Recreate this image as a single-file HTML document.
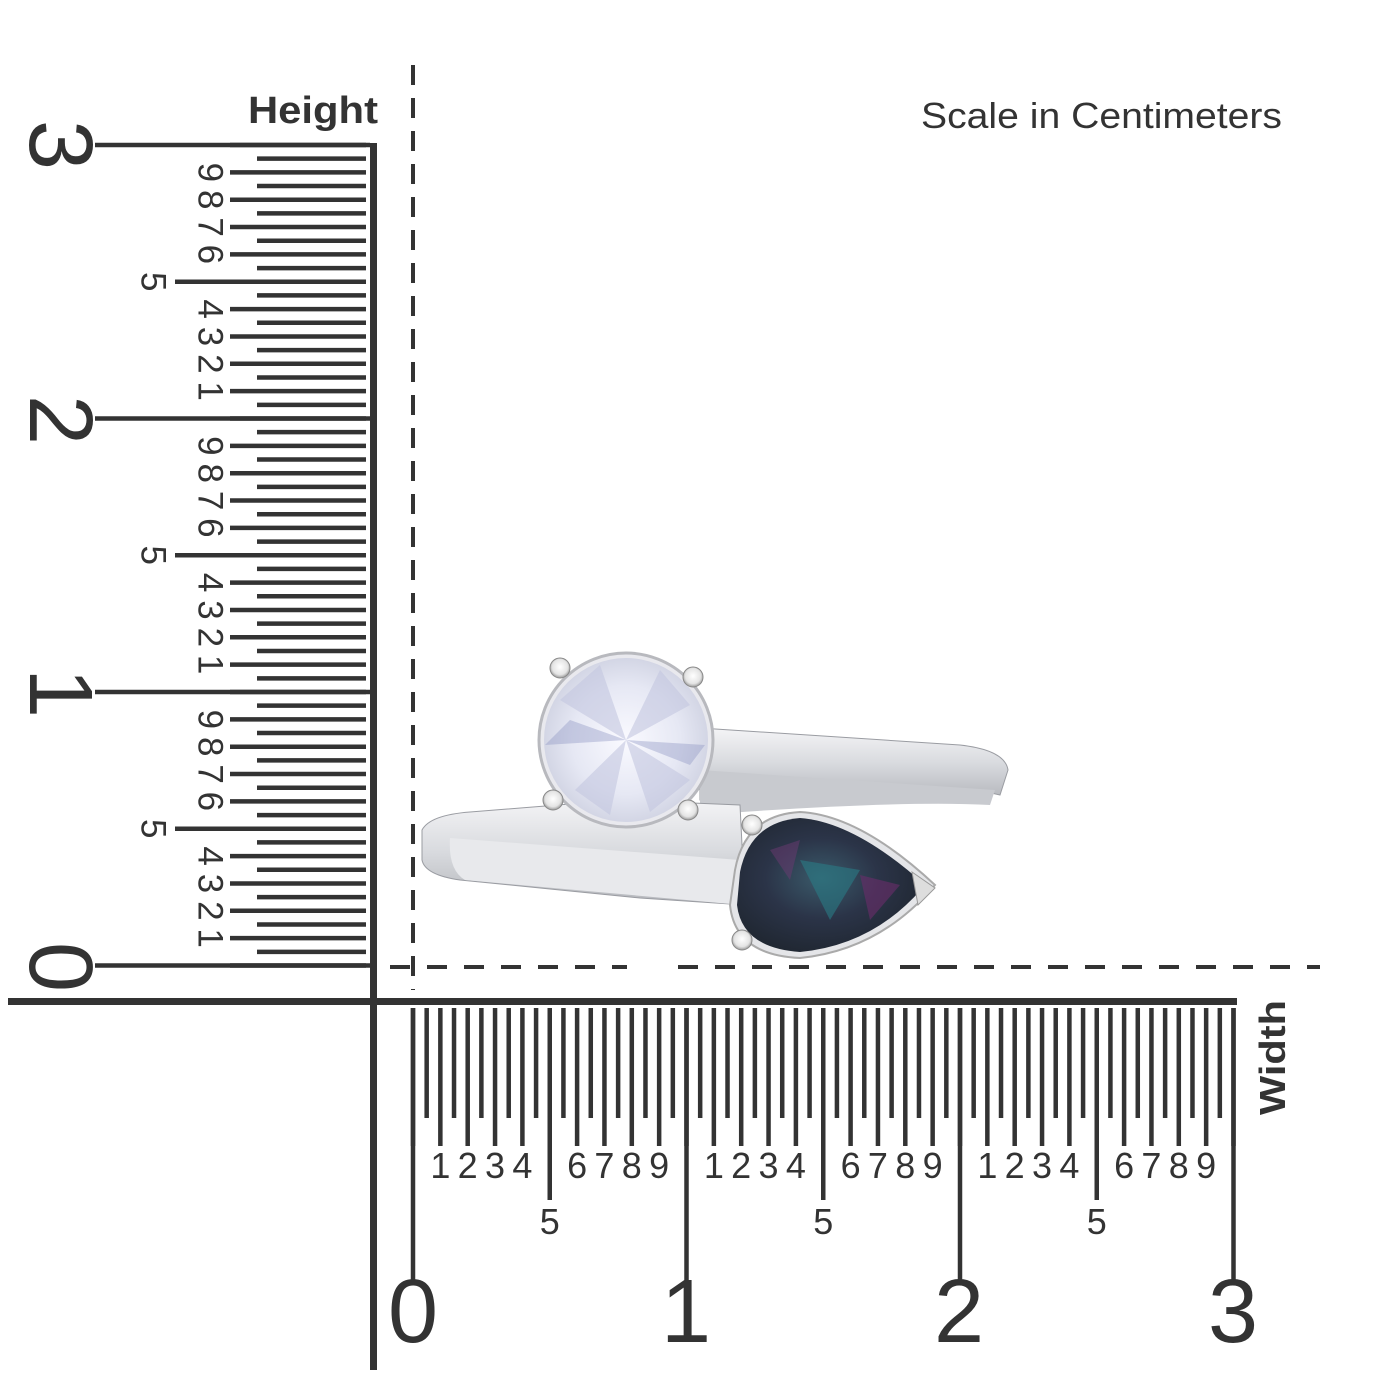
<!DOCTYPE html>
<html><head><meta charset="utf-8"><style>html,body{margin:0;padding:0;background:#fff}svg{display:block}</style></head>
<body>
<svg width="1400" height="1400" viewBox="0 0 1400 1400" xmlns="http://www.w3.org/2000/svg" font-family="Liberation Sans, Arial, sans-serif" fill="#333">
<defs>
<radialGradient id="dia" cx="50%" cy="50%" r="55%"><stop offset="0" stop-color="#fafaff"/><stop offset="0.6" stop-color="#e6e8f4"/><stop offset="1" stop-color="#cdd0e0"/></radialGradient>
<radialGradient id="alex" cx="45%" cy="45%" r="60%"><stop offset="0" stop-color="#3a5a6a"/><stop offset="0.5" stop-color="#2b3448"/><stop offset="1" stop-color="#1f2630"/></radialGradient>
<linearGradient id="band" x1="0" y1="0" x2="0" y2="1"><stop offset="0" stop-color="#f4f4f6"/><stop offset="0.5" stop-color="#d8dade"/><stop offset="1" stop-color="#b4b6bb"/></linearGradient>
<radialGradient id="prong" cx="50%" cy="45%" r="55%"><stop offset="0" stop-color="#fff"/><stop offset="0.7" stop-color="#e4e4e4"/><stop offset="1" stop-color="#999"/></radialGradient>
</defs>

<!-- titles -->
<text x="248" y="123" font-size="38" font-weight="bold" textLength="130" lengthAdjust="spacingAndGlyphs">Height</text>
<text x="921" y="128" font-size="36" textLength="361" lengthAdjust="spacingAndGlyphs">Scale in Centimeters</text>
<text transform="translate(1285,1115) rotate(-90)" font-size="36" font-weight="bold" textLength="115" lengthAdjust="spacingAndGlyphs">Width</text>

<!-- dashed guides -->
<line x1="413" y1="65" x2="413" y2="990" stroke="#333" stroke-width="4" stroke-dasharray="20 13"/>
<line x1="390" y1="967" x2="627" y2="967" stroke="#333" stroke-width="4" stroke-dasharray="20 17"/>
<line x1="678" y1="967" x2="1320" y2="967" stroke="#333" stroke-width="4" stroke-dasharray="20 17"/>

<!-- axes -->
<rect x="370" y="143" width="7" height="1227" fill="#333"/>
<rect x="8" y="998" width="1229" height="7" fill="#333"/>

<!-- vertical ruler ticks -->
<line x1="311.5" y1="142.75" x2="311.5" y2="968" stroke="#333" stroke-width="109" stroke-dasharray="4.5 9.175"/>
<line x1="243.5" y1="142.75" x2="243.5" y2="968" stroke="#333" stroke-width="27" stroke-dasharray="4.5 22.85"/>
<g fill="#333">
<rect x="95" y="142.75" width="275" height="4.5"/>
<rect x="95" y="416.25" width="275" height="4.5"/>
<rect x="95" y="689.75" width="275" height="4.5"/>
<rect x="95" y="963.25" width="275" height="4.5"/>
<rect x="175" y="279.5" width="60" height="4.5"/>
<rect x="175" y="553" width="60" height="4.5"/>
<rect x="175" y="826.5" width="60" height="4.5"/>
</g>
<g font-size="35" text-anchor="middle" dominant-baseline="central">
<text transform="translate(210,172.35) rotate(90)">9</text>
<text transform="translate(210,199.7) rotate(90)">8</text>
<text transform="translate(210,227.05) rotate(90)">7</text>
<text transform="translate(210,254.4) rotate(90)">6</text>
<text transform="translate(153,281.75) rotate(90)">5</text>
<text transform="translate(210,309.1) rotate(90)">4</text>
<text transform="translate(210,336.45) rotate(90)">3</text>
<text transform="translate(210,363.8) rotate(90)">2</text>
<text transform="translate(210,391.15) rotate(90)">1</text>

<text transform="translate(210,445.85) rotate(90)">9</text>
<text transform="translate(210,473.2) rotate(90)">8</text>
<text transform="translate(210,500.55) rotate(90)">7</text>
<text transform="translate(210,527.9) rotate(90)">6</text>
<text transform="translate(153,555.25) rotate(90)">5</text>
<text transform="translate(210,582.6) rotate(90)">4</text>
<text transform="translate(210,609.95) rotate(90)">3</text>
<text transform="translate(210,637.3) rotate(90)">2</text>
<text transform="translate(210,664.65) rotate(90)">1</text>

<text transform="translate(210,719.35) rotate(90)">9</text>
<text transform="translate(210,746.7) rotate(90)">8</text>
<text transform="translate(210,774.05) rotate(90)">7</text>
<text transform="translate(210,801.4) rotate(90)">6</text>
<text transform="translate(153,828.75) rotate(90)">5</text>
<text transform="translate(210,856.1) rotate(90)">4</text>
<text transform="translate(210,883.45) rotate(90)">3</text>
<text transform="translate(210,910.8) rotate(90)">2</text>
<text transform="translate(210,938.15) rotate(90)">1</text>
</g>
<g font-size="90" text-anchor="middle" dominant-baseline="central">
<text transform="translate(60,145) rotate(90)">3</text>
<text transform="translate(60,420) rotate(90)">2</text>
<text transform="translate(60,693) rotate(90)">1</text>
<text transform="translate(60,967) rotate(90)">0</text>
</g>

<!-- bottom ruler ticks -->
<line x1="410.75" y1="1063" x2="1236" y2="1063" stroke="#333" stroke-width="110" stroke-dasharray="4.5 9.175"/>
<line x1="410.75" y1="1132" x2="1236" y2="1132" stroke="#333" stroke-width="28" stroke-dasharray="4.5 22.85"/>
<g fill="#333">
<rect x="410.75" y="1008" width="4.5" height="272"/>
<rect x="684.25" y="1008" width="4.5" height="272"/>
<rect x="957.75" y="1008" width="4.5" height="272"/>
<rect x="1231.25" y="1008" width="4.5" height="272"/>
<rect x="547.5" y="1140" width="4.5" height="60"/>
<rect x="821" y="1140" width="4.5" height="60"/>
<rect x="1094.5" y="1140" width="4.5" height="60"/>
</g>
<g font-size="36" text-anchor="middle">
<text x="440.35" y="1178">1</text><text x="467.7" y="1178">2</text><text x="495.05" y="1178">3</text><text x="522.4" y="1178">4</text>
<text x="577.1" y="1178">6</text><text x="604.45" y="1178">7</text><text x="631.8" y="1178">8</text><text x="659.15" y="1178">9</text>
<text x="549.75" y="1234">5</text>
<text x="713.85" y="1178">1</text><text x="741.2" y="1178">2</text><text x="768.55" y="1178">3</text><text x="795.9" y="1178">4</text>
<text x="850.6" y="1178">6</text><text x="877.95" y="1178">7</text><text x="905.3" y="1178">8</text><text x="932.65" y="1178">9</text>
<text x="823.25" y="1234">5</text>
<text x="987.35" y="1178">1</text><text x="1014.7" y="1178">2</text><text x="1042.05" y="1178">3</text><text x="1069.4" y="1178">4</text>
<text x="1124.1" y="1178">6</text><text x="1151.45" y="1178">7</text><text x="1178.8" y="1178">8</text><text x="1206.15" y="1178">9</text>
<text x="1096.75" y="1234">5</text>
</g>
<g font-size="90" text-anchor="middle">
<text x="413" y="1342">0</text>
<text x="686" y="1342">1</text>
<text x="959" y="1342">2</text>
<text x="1233" y="1342">3</text>
</g>

<!-- ring -->
<g>
<path d="M700 728 L960 745 Q1005 750 1008 770 L1000 795 Q960 785 900 790 L700 800 Z" fill="url(#band)" stroke="#9a9ca2" stroke-width="1"/>
<path d="M700 770 L995 790 L990 805 Q900 800 700 815 Z" fill="#c8cacf"/>
<path d="M422 830 Q430 815 470 812 L620 800 L740 805 L745 905 L640 898 L460 880 Q425 875 422 860 Z" fill="url(#band)" stroke="#9a9ca2" stroke-width="1"/>
<path d="M450 838 L740 860 L742 905 L465 880 Q448 870 450 838 Z" fill="#e8e9ec"/>
<circle cx="626" cy="740" r="87" fill="#e9e9ee" stroke="#b8b9be" stroke-width="3"/>
<circle cx="626" cy="740" r="82" fill="url(#dia)"/>
<path d="M626 740 L560 700 L600 665 Z M626 740 L690 705 L660 670 Z M626 740 L575 790 L610 815 Z M626 740 L690 780 L650 812 Z" fill="#c3c7e0" opacity="0.6"/>
<path d="M626 740 L545 745 L570 720 Z M626 740 L705 745 L690 765 Z" fill="#8f96c4" opacity="0.4"/>
<path d="M735 870 Q745 815 800 812 Q860 815 935 885 Q880 950 800 958 Q735 955 730 905 Z" fill="#e4e5e8" stroke="#aaa" stroke-width="2"/>
<path d="M740 872 Q750 822 800 818 Q855 822 925 885 Q875 945 800 952 Q742 948 737 905 Z" fill="url(#alex)"/>
<path d="M800 860 L860 870 L830 920 Z" fill="#2a7c86" opacity="0.6"/>
<path d="M860 875 L900 885 L870 920 Z" fill="#6a2d6a" opacity="0.6"/>
<path d="M770 850 L800 840 L790 880 Z" fill="#6b3a72" opacity="0.5"/>
<path d="M912 872 L935 888 L918 905 Z" fill="#ddd" stroke="#999"/>
<circle cx="560" cy="668" r="10" fill="url(#prong)" stroke="#888"/>
<circle cx="693" cy="677" r="10" fill="url(#prong)" stroke="#888"/>
<circle cx="553" cy="800" r="10" fill="url(#prong)" stroke="#888"/>
<circle cx="688" cy="810" r="10" fill="url(#prong)" stroke="#888"/>
<circle cx="752" cy="825" r="10" fill="url(#prong)" stroke="#888"/>
<circle cx="742" cy="940" r="10" fill="url(#prong)" stroke="#888"/>
</g>
</svg>
</body></html>
